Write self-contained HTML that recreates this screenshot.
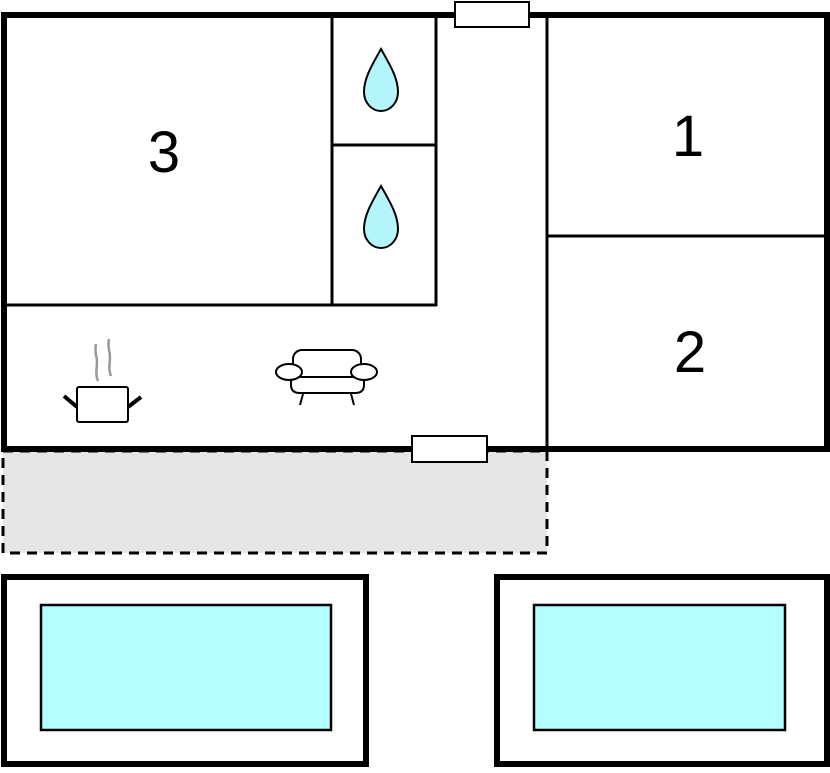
<!DOCTYPE html>
<html><head><style>body{margin:0;background:#fff}</style></head><body>
<svg width="830" height="768" viewBox="0 0 830 768" xmlns="http://www.w3.org/2000/svg">
<rect x="0" y="0" width="830" height="768" fill="#fff"/>
<!-- terrace -->
<rect x="3" y="451" width="544" height="102" fill="#e6e6e6" stroke="#000" stroke-width="3" stroke-dasharray="10,7"/>
<!-- interior walls -->
<g stroke="#000" stroke-width="3" fill="none">
<line x1="547" y1="15" x2="547" y2="449"/>
<line x1="547" y1="236" x2="827" y2="236"/>
<line x1="4" y1="305" x2="437" y2="305"/>
<line x1="332" y1="15" x2="332" y2="305"/>
<line x1="436" y1="15" x2="436" y2="306"/>
<line x1="332" y1="145" x2="436" y2="145"/>
</g>
<!-- outer wall -->
<rect x="4" y="15" width="823" height="434" fill="none" stroke="#000" stroke-width="6"/>
<!-- doors -->
<rect x="455" y="2" width="74" height="25" fill="#fff" stroke="#000" stroke-width="2"/>
<rect x="412" y="436" width="75" height="26" fill="#fff" stroke="#000" stroke-width="2"/>
<!-- drops -->
<g fill="#b3f5fb" stroke="#000" stroke-width="2">
<path d="M381 49 C372 65 364 78 364 92 C364 103 372 111 381 111 C390 111 398 103 398 92 C398 78 390 65 381 49 Z"/>
<path d="M381 186 C372 202 364 215 364 229 C364 240 372 248 381 248 C390 248 398 240 398 229 C398 215 390 202 381 186 Z"/>
</g>
<!-- pot -->
<g stroke="#000" stroke-width="2" fill="#fff">
<rect x="77" y="387" width="51" height="35" rx="2"/>
<line x1="64" y1="396" x2="77" y2="407" stroke-width="4"/>
<line x1="141" y1="397" x2="128" y2="407" stroke-width="4"/>
</g>
<g stroke="#999" stroke-width="2.5" fill="none">
<path d="M98 381 C94 372 99 365 96 355 C95 349 96 344 96 344"/>
<path d="M111 376 C107 367 112 360 109 350 C108 344 109 339 109 339"/>
</g>
<!-- sofa -->
<g stroke="#000" stroke-width="2" fill="#fff">
<path d="M291 372 L291 385 Q291 393 300 393 L355 393 Q364 393 364 385 L364 372 Z"/>
<rect x="293" y="350" width="68" height="27" rx="9"/>
<ellipse cx="289" cy="372" rx="13" ry="8"/>
<ellipse cx="364" cy="372" rx="13" ry="8"/>
<line x1="303" y1="394" x2="300" y2="405"/>
<line x1="351" y1="394" x2="354" y2="405"/>
</g>
<!-- pools -->
<rect x="4" y="577" width="362" height="187" fill="#fff" stroke="#000" stroke-width="6"/>
<rect x="41" y="605" width="290" height="125" fill="#b3ffff" stroke="#000" stroke-width="2.5"/>
<rect x="497" y="577" width="330" height="187" fill="#fff" stroke="#000" stroke-width="6"/>
<rect x="534" y="605" width="251" height="125" fill="#b3ffff" stroke="#000" stroke-width="2.5"/>
<!-- labels -->
<g font-family="Liberation Sans, sans-serif" font-size="58" fill="#000" text-anchor="middle">
<text x="164" y="172">3</text>
<text x="688" y="156">1</text>
<text x="690" y="372">2</text>
</g>
</svg>
</body></html>
